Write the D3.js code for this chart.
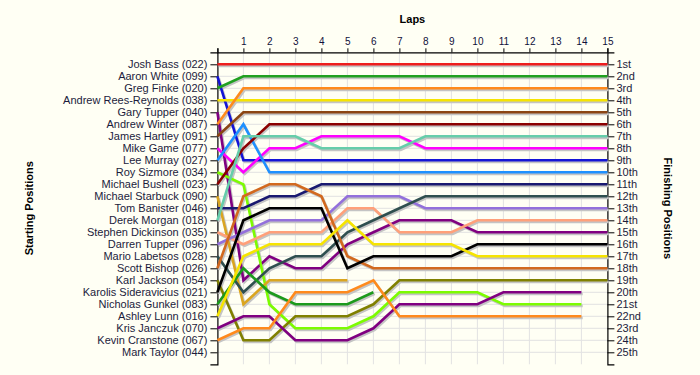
<!DOCTYPE html>
<html>
<head>
<meta charset="utf-8">
<script src="https://cdn.jsdelivr.net/npm/d3@7"></script>
<style>
body { margin: 0; background: #fffff4; }
svg { display: block; }
text { font-family: "Liberation Sans", Arial, sans-serif; }
</style>
</head>
<body>
<svg id="chart" width="700" height="375"></svg>
<script>
// starting grid, top to bottom
var drivers = ["Josh Bass (022)", "Aaron White (099)", "Greg Finke (020)", "Andrew Rees-Reynolds (038)",
    "Gary Tupper (040)", "Andrew Winter (087)", "James Hartley (091)", "Mike Game (077)",
    "Lee Murray (027)", "Roy Sizmore (034)", "Michael Bushell (023)", "Michael Starbuck (090)",
    "Tom Banister (046)", "Derek Morgan (018)", "Stephen Dickinson (035)", "Darren Tupper (096)",
    "Mario Labetsos (028)", "Scott Bishop (026)", "Karl Jackson (054)", "Karolis Sideravicius (021)",
    "Nicholas Gunkel (083)", "Ashley Lunn (016)", "Kris Janczuk (070)", "Kevin Cranstone (067)",
    "Mark Taylor (044)"];

var lineColors = ["#ee1d1d", "#1414d6", "#20a020", "#f6e400", "#800080", "#ff8a1c", "#8b4513", "#ff00ff",
    "#1e90ff", "#7cfc00", "#8b0000", "#daa520", "#191970", "#66cdaa", "#ffa07a", "#9370db",
    "#2f4f4f", "#d2691e", "#808000", "#000000", "#1c9a1c", "#f6e400", "#800080", "#ff8a1c", "#999999"];

// position at the end of each lap (index 0 = grid)
var lapPositions = [
    [1,1,1,1,1,1,1,1,1,1,1,1,1,1,1,1],
    [2,9,9,9,9,9,9,9,9,9,9,9,9,9,9,9],
    [3,2,2,2,2,2,2,2,2,2,2,2,2,2,2,2],
    [4,4,4,4,4,4,4,4,4,4,4,4,4,4,4,4],
    [5,19,17,18,18,16,15,14,14,14,15,15,15,15,15,15],
    [6,3,3,3,3,3,3,3,3,3,3,3,3,3,3,3],
    [7,5,5,5,5,5,5,5,5,5,5,5,5,5,5,5],
    [8,10,8,8,7,7,7,7,8,8,8,8,8,8,8,8],
    [9,6,10,10,10,10,10,10,10,10,10,10,10,10,10,10],
    [10,11,21,23,23,23,22,20,20,20,20,21,21,21,21],
    [11,8,6,6,6,6,6,6,6,6,6,6,6,6,6,6],
    [12,21,19,19,19,19],
    [13,13,12,12,11,11,11,11,11,11,11,11,11,11,11,11],
    [14,7,7,7,8,8,8,8,7,7,7,7,7,7,7,7],
    [15,16,15,15,15,13,13,15,15,15,14,14,14,14,14,14],
    [16,15,14,14,14,12,12,12,13,13,13,13,13,13,13,13],
    [17,20,18,17,17,15,14,13,12,12,12,12,12,12,12,12],
    [18,12,11,11,12,17,18,18,18,18,18,18,18,18,18,18],
    [19,24,24,22,22,22,21,19,19,19,19,19,19,19,19,19],
    [20,14,13,13,13,18,17,17,17,17,16,16,16,16,16,16],
    [21,18,20,21,21,21,20],
    [22,17,16,16,16,14,16,16,16,16,17,17,17,17,17,17],
    [23,22,22,24,24,24,23,21,21,21,21,20,20,20,20],
    [24,23,23,20,20,20,19,22,22,22,22,22,22,22,22],
    []
];

var finishLabels = ["1st", "2nd", "3rd", "4th", "5th", "6th", "7th", "8th", "9th", "10th",
    "11th", "12th", "13th", "14th", "15th", "16th", "17th", "18th", "19th", "20th",
    "21st", "22nd", "23rd", "24th", "25th"];

var laps = d3.range(1, 16);

function drawChart(){
    var svg = d3.select("#chart");
    var left = 217.4, right = 607.4, top = 52.3, bottom = 364.3;

    var x = d3.scaleLinear().domain([0, 15]).range([left, right]);
    var y = d3.scaleLinear().domain([0, 26]).range([top, bottom]);
    var positions = d3.range(1, 26);

    svg.append("rect")
        .attr("width", 700).attr("height", 375)
        .attr("fill", "#fffff4");

    // grid
    svg.append("g")
        .selectAll("line")
        .data(positions)
        .join("line")
            .attr("x1", left).attr("x2", right)
            .attr("y1", d => y(d)).attr("y2", d => y(d))
            .attr("stroke", "#e2e2e2");

    svg.append("g")
        .selectAll("line")
        .data(laps.slice(0, -1))
        .join("line")
            .attr("x1", d => x(d)).attr("x2", d => x(d))
            .attr("y1", top).attr("y2", bottom)
            .attr("stroke", "#e2e2e2");

    // axes
    var leftAxis = d3.axisLeft(y)
        .tickValues(positions)
        .tickFormat(d => drivers[d - 1])
        .tickSize(7).tickPadding(3);
    var rightAxis = d3.axisRight(y)
        .tickValues(positions)
        .tickFormat(d => finishLabels[d - 1])
        .tickSize(7).tickPadding(2);
    var topAxis = d3.axisTop(x)
        .tickValues(d3.range(0, 16))
        .tickFormat(d => d === 0 ? "" : d)
        .tickSize(4).tickPadding(3);

    var gl = svg.append("g").attr("transform", "translate(" + left + ",0)").call(leftAxis);
    var gr = svg.append("g").attr("transform", "translate(" + right + ",0)").call(rightAxis);
    var gt = svg.append("g").attr("transform", "translate(0," + top + ")").call(topAxis);

    [gl, gr, gt].forEach(function(g){
        g.select(".domain").attr("stroke", "#000").attr("stroke-width", 1.2);
        g.selectAll(".tick line").attr("stroke", "#000");
        g.selectAll(".tick text")
            .attr("fill", "#1c1c3c")
            .style("font-size", "11px")
            .style("font-family", "'Liberation Sans', Arial, sans-serif");
    });
    gt.selectAll(".tick text").style("font-size", "10px").attr("fill", "#10103a");

    // lap lines with a drop shadow
    var line = d3.line()
        .x((d, i) => x(i))
        .y(d => y(d));

    var raced = lapPositions.map((p, i) => ({pos: p, color: lineColors[i]}))
        .filter(d => d.pos.length > 1);

    svg.append("g")
        .attr("transform", "translate(1.3,1.6)")
        .selectAll("path")
        .data(raced)
        .join("path")
            .attr("d", d => line(d.pos))
            .attr("fill", "none")
            .attr("stroke", "#c4c4c4")
            .attr("stroke-width", 2.6);

    svg.append("g")
        .selectAll("path")
        .data(raced)
        .join("path")
            .attr("d", d => line(d.pos))
            .attr("fill", "none")
            .attr("stroke", d => d.color)
            .attr("stroke-width", 2.6);

    // titles
    svg.append("text")
        .attr("x", (left + right) / 2)
        .attr("y", 23)
        .attr("text-anchor", "middle")
        .style("font-size", "11px")
        .style("font-weight", "bold")
        .text("Laps");

    svg.append("text")
        .attr("transform", "translate(33," + (top + bottom) / 2 + ") rotate(-90)")
        .attr("text-anchor", "middle")
        .style("font-size", "11px")
        .style("font-weight", "bold")
        .text("Starting Positions");

    svg.append("text")
        .attr("transform", "translate(664," + (top + bottom) / 2 + ") rotate(90)")
        .attr("text-anchor", "middle")
        .style("font-size", "11px")
        .style("font-weight", "bold")
        .text("Finishing Positions");
}

drawChart();
</script>
</body>
</html>
